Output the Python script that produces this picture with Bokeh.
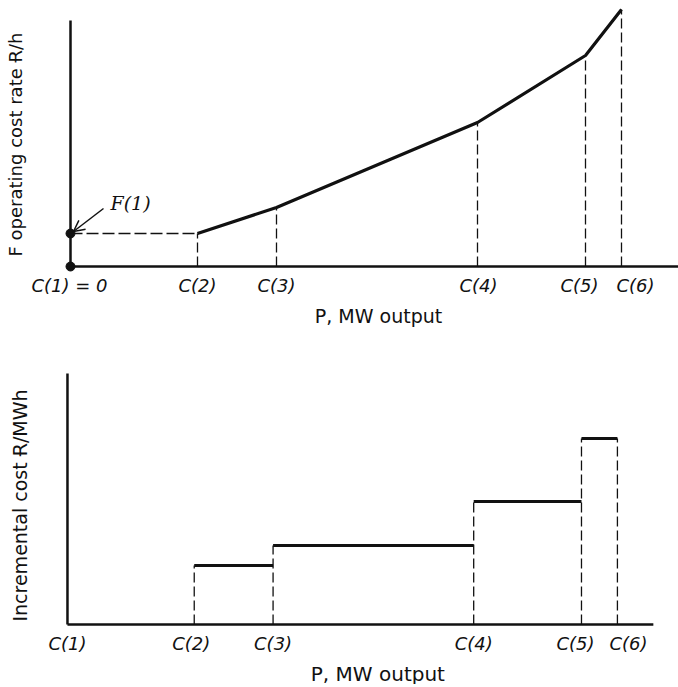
import math
from bokeh.plotting import figure
from bokeh.layouts import column
from bokeh.models import Range1d, Arrow, OpenHead
from bokeh.core.properties import value
from bokeh.embed import file_html
from bokeh.resources import INLINE

# ---- data (arbitrary units) ----
top_tick_labels = ["C(1) = 0", "C(2)", "C(3)", "C(4)", "C(5)", "C(6)"]
bottom_tick_labels = ["C(1)", "C(2)", "C(3)", "C(4)", "C(5)", "C(6)"]
C = [0, 127, 206, 407, 515, 551]            # breakpoints, MW
F = [33, 33, 59, 144, 211, 257]             # operating cost rate at breakpoints
incremental = [59, 79, 123, 186]            # incremental cost on C2-C3, C3-C4, C4-C5, C5-C6
top_xlabel = "P, MW output"
top_ylabel = "F operating cost rate Ɍ/h"
bottom_xlabel = "P, MW output"
bottom_ylabel = "Incremental cost Ɍ/MWh"
f1_label = "F(1)"

# ---- styles ----
INK = "#111111"
SANS = value("DejaVu Sans")
SERIF = value("DejaVu Serif")
top_label_offsets = [-1, 0, 0, 1, -6, 14]
bottom_label_offsets = [0, -3, 0, 0, -6, 11]


def bare(p):
    p.axis.visible = False
    p.grid.visible = False
    p.outline_line_color = None
    p.background_fill_color = "white"
    p.border_fill_color = "white"


# ================= top chart =================
p1 = figure(width=678, height=330, x_range=Range1d(-70, 608), y_range=Range1d(-64, 266),
            output_backend="svg", toolbar_location=None, min_border=0)
bare(p1)

# axes
p1.segment(x0=[0, 0], y0=[0, 0], x1=[0, 608], y1=[246, 0], line_color=INK, line_width=2.5)

# dashed guides
p1.segment(x0=[C[0]], y0=[F[0]], x1=[C[1]], y1=[F[1]], line_color=INK, line_width=1.3, line_dash="12 4")
p1.segment(x0=C[1:], y0=[0] * 5, x1=C[1:], y1=F[1:], line_color=INK, line_width=1.3, line_dash="10 4")

# cost curve
p1.line(C[1:], F[1:], line_color=INK, line_width=3.2)

# dots at origin and F(1)
p1.scatter([C[0], C[0]], [0, F[0]], size=9, color=INK)

# F(1) annotation
p1.add_layout(Arrow(end=OpenHead(size=11, line_width=1.5, line_color=INK),
                    x_start=C[0] + 33, y_start=F[0] + 25, x_end=C[0] + 3, y_end=F[0] + 2,
                    line_width=1.5, line_color=INK))
p1.text(x=[C[0] + 40], y=[F[0] + 31], text=[f1_label], text_font=SERIF, text_font_style="italic",
        text_font_size="19px", text_align="left", text_baseline="middle", text_color=INK)

# tick labels
p1.text(x=C, y=[-19] * len(C), text=top_tick_labels, x_offset=top_label_offsets,
        text_font=SANS, text_font_style="italic", text_font_size="18px",
        text_align="center", text_baseline="middle", text_color=INK)

# axis titles
p1.text(x=[308], y=[-49], text=[top_xlabel], text_font=SANS, text_font_size="19px",
        text_align="center", text_baseline="middle", text_color=INK)
p1.text(x=[-55], y=[122], text=[top_ylabel], angle=math.pi / 2, text_font=SANS,
        text_font_size="18px", text_align="center", text_baseline="middle", text_color=INK)

# ================= bottom chart =================
p2 = figure(width=678, height=354, x_range=Range1d(-67.1, 612.2), y_range=Range1d(-60, 294),
            output_backend="svg", toolbar_location=None, min_border=0)
bare(p2)

p2.segment(x0=[0, 0], y0=[0, 0], x1=[0, 587], y1=[251, 0], line_color=INK, line_width=2.5)

# dashed verticals at breakpoints up to the higher adjacent level
levels = [0] + incremental + [0]   # level of segment k between C[k] and C[k+1] (last: beyond C6)
heights = [max(levels[i - 1], levels[i]) for i in range(1, len(C))]
p2.segment(x0=C[1:], y0=[0] * 5, x1=C[1:], y1=heights, line_color=INK, line_width=1.3, line_dash="10 4")

# steps
p2.segment(x0=C[1:5], y0=incremental, x1=C[2:6], y1=incremental, line_color=INK, line_width=3.2)

p2.text(x=C, y=[-19] * len(C), text=bottom_tick_labels, x_offset=bottom_label_offsets,
        text_font=SANS, text_font_style="italic", text_font_size="18px",
        text_align="center", text_baseline="middle", text_color=INK)

p2.text(x=[311], y=[-49], text=[bottom_xlabel], text_font=SANS, text_font_size="20px",
        text_align="center", text_baseline="middle", text_color=INK)
p2.text(x=[-48], y=[119], text=[bottom_ylabel], angle=math.pi / 2, text_font=SANS,
        text_font_size="19px", text_align="center", text_baseline="middle", text_color=INK)

layout = column(p1, p2, spacing=0)
open("out.html", "w").write(file_html(layout, INLINE))
